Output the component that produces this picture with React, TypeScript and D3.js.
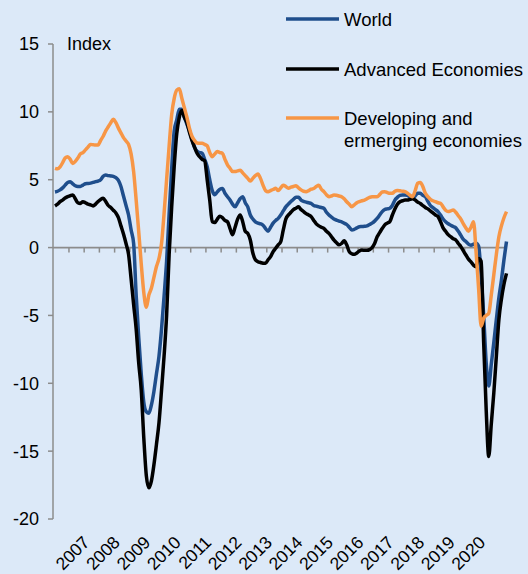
import React, { useEffect, useRef } from "react";
import * as d3 from "d3";

// monthly index, Jan 2006 .. Nov 2020
const world = [
  4.1, 4.15, 4.25, 4.4, 4.6, 4.8, 4.85, 4.7, 4.55, 4.5, 4.5, 4.6,
  4.7, 4.72, 4.75, 4.8, 4.86, 4.9, 5.0, 5.25, 5.35, 5.3, 5.28, 5.25,
  5.15, 4.95, 4.5, 3.8, 3.1, 2.4, 1.3, 0.3, -3.5, -6.6, -9.3, -11.4,
  -12.1, -12.2, -11.6, -10.6, -9.3, -8.0, -6.0, -3.6, -1.0, 2.5, 5.8, 8.6,
  9.4, 10.2, 10.2, 9.6, 9.1, 8.6, 8.0, 7.4, 7.1, 7.0, 6.95, 6.5,
  5.96, 5.0, 4.2, 3.9, 4.1, 4.3, 4.35, 4.0, 3.75, 3.5, 3.2, 3.0,
  3.3, 3.6, 3.75, 3.3, 3.0, 2.4, 2.1, 1.9, 1.8, 1.75, 1.65, 1.4,
  1.2, 1.5, 1.8, 2.0, 2.15, 2.4, 2.7, 3.0, 3.2, 3.4, 3.55, 3.7,
  3.7, 3.5, 3.4, 3.35, 3.3, 3.25, 3.1, 3.05, 3.0, 2.95, 2.9, 2.6,
  2.4, 2.25, 2.1, 2.03, 1.95, 1.9, 1.8, 1.7, 1.5, 1.3, 1.35, 1.45,
  1.54, 1.55, 1.57, 1.6, 1.7, 1.8, 1.95, 2.15, 2.4, 2.65, 2.8, 2.85,
  2.9, 3.1, 3.5, 3.7, 3.85, 3.88, 3.88, 3.85, 3.7, 3.63, 3.8, 4.0,
  4.0, 3.85, 3.75, 3.4, 3.1, 2.95, 2.8, 2.65, 2.4, 2.1, 1.9, 1.75,
  1.65, 1.55, 1.45, 1.2, 0.9, 0.6, 0.45, 0.25, 0.18, 0.25, 0.32, 0.1,
  -2.0, -5.0, -8.5, -10.2, -8.6, -7.0, -5.3, -3.7, -2.4, -0.9, 0.45,
];

const advanced = [
  3.07, 3.2, 3.38, 3.5, 3.65, 3.75, 3.82, 3.88, 3.6, 3.3, 3.25, 3.38,
  3.3, 3.2, 3.15, 3.07, 3.2, 3.4, 3.55, 3.63, 3.4, 3.1, 2.95, 2.75,
  2.55, 2.2, 1.6, 1.0, 0.3, -0.5, -2.3, -4.2, -6.0, -8.5, -10.5, -14.0,
  -16.8, -17.7, -17.2, -16.0, -14.5, -12.9, -10.5, -8.0, -5.0, -0.5, 3.0, 6.0,
  8.4, 9.6, 10.1, 9.6, 9.2, 8.5, 7.9, 7.4, 6.95, 6.7, 6.5, 6.4,
  5.0, 3.5, 1.9, 1.85, 2.1, 2.3, 2.2, 2.0, 1.9, 1.4, 0.95, 1.5,
  2.1, 2.4, 1.9, 1.2, 1.05, 0.56, -0.4, -0.9, -1.04, -1.1, -1.15, -1.16,
  -0.9, -0.67, -0.3, -0.05, 0.2, 0.44, 1.3, 2.1, 2.4, 2.6, 2.8, 2.9,
  3.0, 2.8, 2.65, 2.5, 2.4, 2.28, 2.0, 1.75, 1.6, 1.5, 1.42, 1.2,
  1.05, 0.8, 0.55, 0.35, 0.2, 0.3, 0.5, 0.2, -0.3, -0.45, -0.5, -0.4,
  -0.25, -0.18, -0.2, -0.2, -0.15, 0.0, 0.3, 0.8, 1.1, 1.4, 1.67, 1.8,
  1.91, 2.4, 2.85, 3.2, 3.38, 3.45, 3.5, 3.5, 3.55, 3.6, 3.5, 3.35,
  3.25, 3.1, 2.95, 2.85, 2.7, 2.55, 2.4, 2.28, 1.9, 1.45, 1.2, 0.95,
  0.8, 0.65, 0.56, 0.3, 0.07, -0.25, -0.55, -0.85, -1.05, -1.3, -1.41, -0.8,
  -1.0, -7.0, -12.0, -15.4, -13.0, -10.7, -8.0, -5.3, -3.8, -2.7, -1.9,
];

const developing = [
  5.84, 5.8, 5.95, 6.25, 6.6, 6.7, 6.5, 6.2, 6.35, 6.6, 6.9, 7.0,
  7.2, 7.4, 7.6, 7.58, 7.55, 7.56, 7.9, 8.2, 8.6, 8.9, 9.2, 9.45,
  9.2, 8.8, 8.45, 8.1, 7.85, 7.6, 6.9, 5.6, 3.5, 1.2, -1.2, -3.3,
  -4.4, -3.5, -3.0, -2.2, -1.4, -0.8, 0.3, 2.5, 5.0, 7.5, 9.8, 11.0,
  11.6, 11.7, 11.0, 10.3, 9.6, 8.8, 8.2, 7.9, 7.7, 7.68, 7.68, 7.6,
  7.5, 7.0, 6.7, 6.9, 7.07, 7.0, 6.95, 6.5, 6.1, 5.85, 5.6, 5.6,
  5.65, 5.7, 5.5, 5.3, 5.1, 4.9, 5.1, 5.3, 5.42, 5.1, 4.6, 4.2,
  4.12, 4.2, 4.28, 4.37, 4.2, 4.4, 4.6, 4.5, 4.37, 4.45, 4.5, 4.55,
  4.4, 4.25, 4.15, 4.12, 4.2, 4.3, 4.35, 4.5, 4.6, 4.3, 4.12, 3.9,
  3.75, 3.8, 3.88, 3.85, 3.8, 3.75, 3.6, 3.38, 3.2, 3.01, 3.15, 3.3,
  3.38, 3.45, 3.5, 3.6, 3.7, 3.75, 3.75, 3.75, 3.9, 4.1, 4.12, 4.05,
  4.0, 4.0, 4.15, 4.2, 4.18, 4.15, 4.12, 4.0, 3.85, 3.75, 4.2, 4.74,
  4.8, 4.5, 4.0, 3.75, 3.55, 3.45, 3.38, 3.3, 3.26, 3.0, 2.75, 2.65,
  2.7, 2.77, 2.6, 2.35, 2.1, 1.75, 1.45, 1.2, 1.5, 1.9, -0.3, -3.0,
  -5.8, -5.2, -5.0, -4.85, -3.5, -2.0, -0.5, 0.8, 1.6, 2.2, 2.65,
];

const years = [2007, 2008, 2009, 2010, 2011, 2012, 2013, 2014, 2015, 2016, 2017, 2018, 2019, 2020];
const yTicks = [15, 10, 5, 0, -5, -10, -15, -20];

const series = [
  { name: "World", values: world, color: "#1f4e8c" },
  { name: "Advanced Economies", values: advanced, color: "#000000" },
  { name: "Developing and|ermerging economies", values: developing, color: "#f79646" },
];

const W = 528;
const H = 574;
const FONT = "'Liberation Sans', Arial, sans-serif";
const AXIS = "#8c8c8c";

export default function App() {
  const ref = useRef<SVGSVGElement>(null);

  useEffect(() => {
    const svg = d3.select(ref.current);
    svg.selectAll("*").remove();

    const x = d3.scaleLinear().domain([0, world.length - 1]).range([55, 506.5]);
    const y = d3.scaleLinear().domain([-20, 15]).range([519, 44]);

    svg.append("rect").attr("width", W).attr("height", H).attr("fill", "#dce9f8");

    // y axis
    svg.append("line")
      .attr("x1", 53).attr("x2", 53)
      .attr("y1", y(15)).attr("y2", y(-20))
      .attr("stroke", AXIS).attr("stroke-width", 1.5);
    const yt = svg.append("g").selectAll("g").data(yTicks).enter().append("g");
    yt.append("line")
      .attr("x1", 48).attr("x2", 53)
      .attr("y1", (d) => y(d)).attr("y2", (d) => y(d))
      .attr("stroke", AXIS).attr("stroke-width", 1.5);
    yt.append("text")
      .attr("x", 39).attr("y", (d) => y(d)).attr("dy", "0.36em")
      .attr("text-anchor", "end")
      .style("font-family", FONT).style("font-size", "18px").attr("fill", "#000")
      .text((d) => d);

    svg.append("text")
      .attr("x", 67).attr("y", 50)
      .style("font-family", FONT).style("font-size", "18px")
      .text("Index");

    // zero line with half-year ticks
    svg.append("line")
      .attr("x1", 53).attr("x2", 507)
      .attr("y1", y(0)).attr("y2", y(0))
      .attr("stroke", AXIS).attr("stroke-width", 1.8);
    const half = d3.range(6, 172, 6);
    svg.append("g").selectAll("line").data(half).enter().append("line")
      .attr("x1", (d) => x(d - 0.5)).attr("x2", (d) => x(d - 0.5))
      .attr("y1", y(0)).attr("y2", y(0) + 5)
      .attr("stroke", AXIS).attr("stroke-width", 1.5);

    // year labels
    svg.append("g").selectAll("text").data(years).enter().append("text")
      .attr("transform", (d) => "translate(" + (x((d - 2006) * 12 - 0.5) + 6.4) + ",543.5) rotate(-45)")
      .attr("text-anchor", "end")
      .style("font-family", FONT).style("font-size", "17.5px")
      .text((d) => d);

    // lines
    const line = d3.line<number>()
      .x((d, i) => x(i))
      .y((d) => y(d))
      .curve(d3.curveMonotoneX);
    svg.append("g").selectAll("path").data(series).enter().append("path")
      .attr("d", (s) => line(s.values))
      .attr("fill", "none")
      .attr("stroke", (s) => s.color)
      .attr("stroke-width", 3.5)
      .attr("stroke-linejoin", "round");

    // legend
    const leg = svg.append("g").selectAll("g").data(series).enter().append("g")
      .attr("transform", (s, i) => "translate(286," + [19, 69, 118][i] + ")");
    leg.append("line")
      .attr("x1", 0).attr("x2", 53)
      .attr("stroke", (s) => s.color).attr("stroke-width", 3.5);
    leg.append("text")
      .style("font-family", FONT).style("font-size", "18.5px")
      .selectAll("tspan")
      .data((s) => s.name.split("|"))
      .enter().append("tspan")
      .attr("x", 58)
      .attr("y", (d, i) => i * 22)
      .attr("dy", "0.36em")
      .text((d) => d);
  }, []);

  return (
    <div style={{ position: "fixed", left: 0, top: 0 }}>
      <svg ref={ref} width={W} height={H} style={{ display: "block" }} />
    </div>
  );
}
